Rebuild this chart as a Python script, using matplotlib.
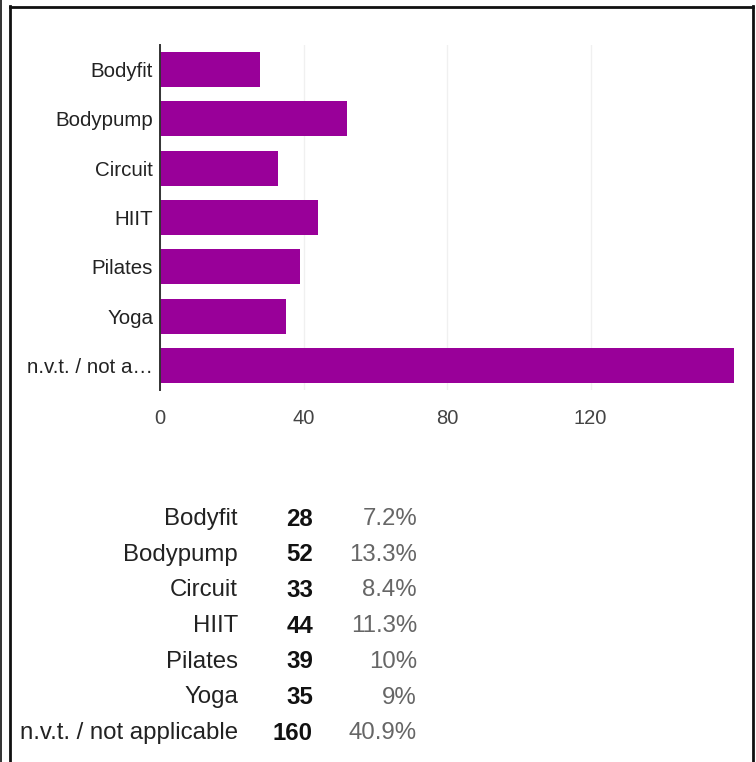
import matplotlib
matplotlib.use("Agg")
import matplotlib.pyplot as plt
from matplotlib.lines import Line2D

plt.rcParams['font.family'] = ['Liberation Sans', 'DejaVu Sans']

categories = ["Bodyfit", "Bodypump", "Circuit", "HIIT", "Pilates", "Yoga", "n.v.t. / not applicable"]
tick_labels = ["Bodyfit", "Bodypump", "Circuit", "HIIT", "Pilates", "Yoga", "n.v.t. / not a\u2026"]
counts = [28, 52, 33, 44, 39, 35, 160]
percents = ["7.2%", "13.3%", "8.4%", "11.3%", "10%", "9%", "40.9%"]
x_ticks = [0, 40, 80, 120]

W, H = 756, 762
fig = plt.figure(figsize=(W / 100, H / 100), dpi=100)
fig.patch.set_facecolor("white")

def fx(px):
    return px / W

def fy(py):
    return 1 - py / H

# plot area: x 160..734, y 45..390 (pixels)
ax = fig.add_axes([fx(160), fy(390), fx(734) - fx(160), (390 - 45) / H])
ypos = list(range(len(categories)))
ax.barh(ypos, counts, height=0.71, color="#990099", zorder=3)
ax.set_ylim(len(categories) - 0.5, -0.5)
ax.set_xlim(0, 160)
ax.set_yticks(ypos)
ax.set_yticklabels(tick_labels, fontsize=14.8, color="#222222")
ax.set_xticks(x_ticks)
ax.set_xticklabels([str(t) for t in x_ticks], fontsize=14.5, color="#444444")
ax.tick_params(axis="both", length=0)
ax.tick_params(axis="y", pad=5)
ax.tick_params(axis="x", pad=14)
for s in ["top", "right", "bottom"]:
    ax.spines[s].set_visible(False)
ax.spines["left"].set_color("#333333")
ax.spines["left"].set_linewidth(1.4)
ax.spines["left"].set_zorder(4)
ax.grid(axis="x", color="#f0f0f0", linewidth=1, zorder=0)
ax.set_axisbelow(True)

# table below chart
row0, step = 519, 35.7
for i, (c, n, p) in enumerate(zip(categories, counts, percents)):
    y = fy(row0 + i * step)
    fig.text(fx(238), y, c, ha="right", va="center", fontsize=17.3, color="#222222")
    fig.text(fx(313), y, str(n), ha="right", va="center", fontsize=17.3,
             color="#111111", fontweight="bold")
    fig.text(fx(417), y, p, ha="right", va="center", fontsize=17.3, color="#666666")

# border lines
fig.add_artist(Line2D([fx(0.8), fx(0.8)], [0, 1], transform=fig.transFigure,
                      color="#111111", linewidth=1.2))
fig.add_artist(Line2D([fx(10), fx(10)], [0, fy(6)], transform=fig.transFigure,
                      color="#111111", linewidth=2.0))
fig.add_artist(Line2D([fx(10), fx(753)], [fy(6.5), fy(6.5)], transform=fig.transFigure,
                      color="#111111", linewidth=2.0))
fig.add_artist(Line2D([fx(753), fx(753)], [0, fy(6)], transform=fig.transFigure,
                      color="#111111", linewidth=2.0))

fig.savefig("out.png", dpi=100, facecolor="white")
